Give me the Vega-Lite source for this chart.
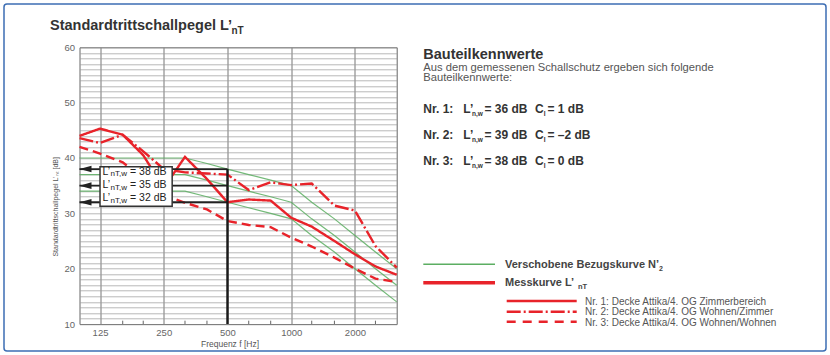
{
  "$schema": "https://vega.github.io/schema/vega-lite/v6.json",
  "width": 317.2,
  "height": 276.7,
  "autosize": "none",
  "padding": {"left": 79.5, "top": 47.3, "right": 433.3, "bottom": 31},
  "background": "white",
  "config": {
    "view": {"stroke": "#666", "strokeWidth": 1},
    "font": "Liberation Sans",
    "text": {"font": "Liberation Sans"}
  },
  "data": {"values": [{}]},
  "datasets": {
    "mess": [
      {"curve": "Nr. 1", "f": 100, "L": 44.0}, {"curve": "Nr. 1", "f": 125, "L": 45.3}, {"curve": "Nr. 1", "f": 160, "L": 44.2}, {"curve": "Nr. 1", "f": 200, "L": 40.5},
      {"curve": "Nr. 1", "f": 250, "L": 34.6}, {"curve": "Nr. 1", "f": 315, "L": 40.2}, {"curve": "Nr. 1", "f": 400, "L": 36.2}, {"curve": "Nr. 1", "f": 500, "L": 32.0},
      {"curve": "Nr. 1", "f": 630, "L": 32.5}, {"curve": "Nr. 1", "f": 800, "L": 32.3}, {"curve": "Nr. 1", "f": 1000, "L": 29.2}, {"curve": "Nr. 1", "f": 1250, "L": 27.6},
      {"curve": "Nr. 1", "f": 1600, "L": 25.0}, {"curve": "Nr. 1", "f": 2000, "L": 22.6}, {"curve": "Nr. 1", "f": 2500, "L": 20.4}, {"curve": "Nr. 1", "f": 3150, "L": 18.9},
      {"curve": "Nr. 2", "f": 100, "L": 43.6}, {"curve": "Nr. 2", "f": 125, "L": 42.7}, {"curve": "Nr. 2", "f": 160, "L": 44.2}, {"curve": "Nr. 2", "f": 200, "L": 41.2},
      {"curve": "Nr. 2", "f": 250, "L": 38.0}, {"curve": "Nr. 2", "f": 315, "L": 37.4}, {"curve": "Nr. 2", "f": 400, "L": 37.2}, {"curve": "Nr. 2", "f": 500, "L": 37.0},
      {"curve": "Nr. 2", "f": 630, "L": 34.2}, {"curve": "Nr. 2", "f": 800, "L": 35.6}, {"curve": "Nr. 2", "f": 1000, "L": 35.1}, {"curve": "Nr. 2", "f": 1250, "L": 35.4},
      {"curve": "Nr. 2", "f": 1600, "L": 31.4}, {"curve": "Nr. 2", "f": 2000, "L": 30.5}, {"curve": "Nr. 2", "f": 2500, "L": 24.1}, {"curve": "Nr. 2", "f": 3150, "L": 20.2},
      {"curve": "Nr. 3", "f": 100, "L": 42.0}, {"curve": "Nr. 3", "f": 125, "L": 40.8}, {"curve": "Nr. 3", "f": 160, "L": 39.2}, {"curve": "Nr. 3", "f": 200, "L": 36.3},
      {"curve": "Nr. 3", "f": 250, "L": 33.3}, {"curve": "Nr. 3", "f": 315, "L": 31.9}, {"curve": "Nr. 3", "f": 400, "L": 30.7}, {"curve": "Nr. 3", "f": 500, "L": 28.6},
      {"curve": "Nr. 3", "f": 630, "L": 27.9}, {"curve": "Nr. 3", "f": 800, "L": 27.5}, {"curve": "Nr. 3", "f": 1000, "L": 25.6}, {"curve": "Nr. 3", "f": 1250, "L": 24.0},
      {"curve": "Nr. 3", "f": 1600, "L": 22.0}, {"curve": "Nr. 3", "f": 2000, "L": 20.0}, {"curve": "Nr. 3", "f": 2500, "L": 18.2}, {"curve": "Nr. 3", "f": 3150, "L": 17.6}
    ],
    "bezug": [
      {"curve": "B38", "f": 100, "L": 40}, {"curve": "B38", "f": 125, "L": 40}, {"curve": "B38", "f": 160, "L": 40}, {"curve": "B38", "f": 200, "L": 40},
      {"curve": "B38", "f": 250, "L": 40}, {"curve": "B38", "f": 315, "L": 40}, {"curve": "B38", "f": 400, "L": 39}, {"curve": "B38", "f": 500, "L": 38},
      {"curve": "B38", "f": 630, "L": 37}, {"curve": "B38", "f": 800, "L": 36}, {"curve": "B38", "f": 1000, "L": 35}, {"curve": "B38", "f": 1250, "L": 32},
      {"curve": "B38", "f": 1600, "L": 29}, {"curve": "B38", "f": 2000, "L": 26}, {"curve": "B38", "f": 2500, "L": 23}, {"curve": "B38", "f": 3150, "L": 20},
      {"curve": "B35", "f": 100, "L": 37}, {"curve": "B35", "f": 125, "L": 37}, {"curve": "B35", "f": 160, "L": 37}, {"curve": "B35", "f": 200, "L": 37},
      {"curve": "B35", "f": 250, "L": 37}, {"curve": "B35", "f": 315, "L": 37}, {"curve": "B35", "f": 400, "L": 36}, {"curve": "B35", "f": 500, "L": 35},
      {"curve": "B35", "f": 630, "L": 34}, {"curve": "B35", "f": 800, "L": 33}, {"curve": "B35", "f": 1000, "L": 32}, {"curve": "B35", "f": 1250, "L": 29},
      {"curve": "B35", "f": 1600, "L": 26}, {"curve": "B35", "f": 2000, "L": 23}, {"curve": "B35", "f": 2500, "L": 20}, {"curve": "B35", "f": 3150, "L": 17},
      {"curve": "B32", "f": 100, "L": 34}, {"curve": "B32", "f": 125, "L": 34}, {"curve": "B32", "f": 160, "L": 34}, {"curve": "B32", "f": 200, "L": 34},
      {"curve": "B32", "f": 250, "L": 34}, {"curve": "B32", "f": 315, "L": 34}, {"curve": "B32", "f": 400, "L": 33}, {"curve": "B32", "f": 500, "L": 32},
      {"curve": "B32", "f": 630, "L": 31}, {"curve": "B32", "f": 800, "L": 30}, {"curve": "B32", "f": 1000, "L": 29}, {"curve": "B32", "f": 1250, "L": 26},
      {"curve": "B32", "f": 1600, "L": 23}, {"curve": "B32", "f": 2000, "L": 20}, {"curve": "B32", "f": 2500, "L": 17}, {"curve": "B32", "f": 3150, "L": 14}
    ],
    "terzticks": [{"f": 160}, {"f": 200}, {"f": 315}, {"f": 400}, {"f": 630}, {"f": 800}, {"f": 1250}, {"f": 1600}, {"f": 2500}],
    "lntw": [{"v": 38}, {"v": 35}, {"v": 32}]
  },
  "layer": [
    {
      "data": {"name": "bezug"},
      "mark": {"type": "line", "color": "#5cae62", "strokeWidth": 1.2, "opacity": 0.85},
      "encoding": {
        "x": {
          "field": "f", "type": "quantitative",
          "scale": {"type": "log", "domain": [100, 3150], "nice": false},
          "axis": {
            "values": [125, 250, 500, 1000, 2000], "format": "d", "title": "Frequenz f [Hz]",
            "grid": true, "gridColor": "#777", "gridWidth": 1, "ticks": false, "domain": false,
            "labelFontSize": 9.5, "labelColor": "#666", "labelPadding": 3, "labelFlush": false, "labelOverlap": false,
            "titleFontSize": 8.5, "titleFontWeight": "normal", "titleColor": "#555", "titlePadding": 3,
            "titleX": 150, "titleAlign": "center"
          }
        },
        "y": {
          "field": "L", "type": "quantitative",
          "scale": {"domain": [10, 60], "nice": false, "zero": false},
          "axis": {
            "values": [10,11,12,13,14,15,16,17,18,19,20,21,22,23,24,25,26,27,28,29,30,31,32,33,34,35,36,37,38,39,40,41,42,43,44,45,46,47,48,49,50,51,52,53,54,55,56,57,58,59,60],
            "labelExpr": "datum.value % 10 === 0 ? datum.label : ''",
            "title": "Standardtrittschallpegel L’ₙₜ [dB]",
            "grid": true, "gridColor": "#9a9a9a", "gridWidth": 0.7, "ticks": false, "domain": false,
            "labelFontSize": 9.5, "labelColor": "#666", "labelPadding": 5, "labelFlush": false, "labelOverlap": false,
            "titleFontSize": 7, "titleFontWeight": "normal", "titleColor": "#555", "titlePadding": 5,
            "titleY": 159
          }
        },
        "detail": {"field": "curve"}
      }
    },
    {
      "data": {"name": "terzticks"},
      "mark": {"type": "rule", "color": "#666", "strokeWidth": 1},
      "encoding": {
        "x": {"field": "f", "type": "quantitative", "scale": {"type": "log", "domain": [100, 3150], "nice": false}, "axis": null},
        "y": {"datum": 10, "type": "quantitative", "scale": {"domain": [10, 60], "nice": false, "zero": false}, "axis": null},
        "y2": {"datum": 10.6}
      }
    },
    {
      "data": {"name": "mess"},
      "mark": {"type": "line", "color": "#e8232a", "strokeWidth": 2.4},
      "encoding": {
        "x": {"field": "f", "type": "quantitative", "scale": {"type": "log", "domain": [100, 3150], "nice": false}, "axis": null},
        "y": {"field": "L", "type": "quantitative", "scale": {"domain": [10, 60], "nice": false, "zero": false}, "axis": null},
        "strokeDash": {"field": "curve", "type": "nominal", "scale": {"domain": ["Nr. 1", "Nr. 2", "Nr. 3"], "range": [[1, 0], [14, 3, 2, 3], [9, 5]]}, "legend": null}
      }
    },
    {
      "data": {"name": "lntw"},
      "mark": {"type": "rule", "color": "#222", "strokeWidth": 1.8},
      "encoding": {
        "x": {"datum": 100, "type": "quantitative", "scale": {"type": "log", "domain": [100, 3150], "nice": false}, "axis": null},
        "x2": {"datum": 500},
        "y": {"field": "v", "type": "quantitative", "scale": {"domain": [10, 60], "nice": false, "zero": false}, "axis": null}
      }
    },
    {
      "mark": {"type": "rule", "color": "#1a1a1a", "strokeWidth": 2.4},
      "encoding": {
        "x": {"datum": 500, "type": "quantitative", "scale": {"type": "log", "domain": [100, 3150], "nice": false}, "axis": null},
        "y": {"datum": 10, "type": "quantitative", "scale": {"domain": [10, 60], "nice": false, "zero": false}, "axis": null},
        "y2": {"datum": 38}
      }
    },
    {
      "data": {"name": "lntw"},
      "mark": {"type": "point", "shape": "M 0 0 L 2 -0.55 L 2 0.55 Z", "filled": true, "color": "#222", "size": 144, "opacity": 1},
      "encoding": {
        "x": {"datum": 100, "type": "quantitative", "scale": {"type": "log", "domain": [100, 3150], "nice": false}, "axis": null},
        "y": {"field": "v", "type": "quantitative", "scale": {"domain": [10, 60], "nice": false, "zero": false}, "axis": null}
      }
    },
    {
      "mark": {"type": "rect", "fill": "white", "stroke": "#333", "strokeWidth": 1.5},
      "encoding": {
        "x": {"datum": 125, "type": "quantitative", "scale": {"type": "log", "domain": [100, 3150], "nice": false}, "axis": null},
        "x2": {"datum": 274},
        "y": {"datum": 31.3, "type": "quantitative", "scale": {"domain": [10, 60], "nice": false, "zero": false}, "axis": null},
        "y2": {"datum": 38.4}
      }
    },
    {
      "data": {"values": [{}]},
      "layer": [
        {
          "mark": {"type": "rect", "fillOpacity": 0, "stroke": "#3d6eb4", "strokeWidth": 1.5, "cornerRadius": 3},
          "encoding": {
            "x": {"datum": 4, "type": "quantitative", "scale": {"domain": [0, 830], "range": [-79.5, 750.5], "nice": false, "zero": false}, "axis": null},
            "x2": {"datum": 826},
            "y": {"datum": 4, "type": "quantitative", "scale": {"domain": [0, 355], "range": [-47.3, 307.7], "nice": false, "zero": false}, "axis": null},
            "y2": {"datum": 351}
          }
        },
        {"mark": {"type": "text", "align": "left", "baseline": "alphabetic", "fontSize": 14.5, "fontWeight": "bold", "color": "#333"},
         "encoding": {"x": {"datum": 50, "axis": null}, "y": {"datum": 30, "axis": null}, "text": {"value": "Standardtrittschallpegel L’"}}},
        {"mark": {"type": "text", "align": "left", "baseline": "alphabetic", "fontSize": 10, "fontWeight": "bold", "color": "#333"},
         "encoding": {"x": {"datum": 231.5, "axis": null}, "y": {"datum": 34, "axis": null}, "text": {"value": "nT"}}},

        {"mark": {"type": "text", "align": "left", "baseline": "middle", "fontSize": 10.5, "color": "#222"},
         "encoding": {"x": {"datum": 102.5, "axis": null}, "y": {"datum": 171.5, "axis": null}, "text": {"value": "L’"}}},
        {"mark": {"type": "text", "align": "left", "baseline": "middle", "fontSize": 8, "color": "#222"},
         "encoding": {"x": {"datum": 110.5, "axis": null}, "y": {"datum": 174, "axis": null}, "text": {"value": "nT,w"}}},
        {"mark": {"type": "text", "align": "left", "baseline": "middle", "fontSize": 10.5, "color": "#222"},
         "encoding": {"x": {"datum": 130, "axis": null}, "y": {"datum": 171.5, "axis": null}, "text": {"value": "= 38 dB"}}},
        {"mark": {"type": "text", "align": "left", "baseline": "middle", "fontSize": 10.5, "color": "#222"},
         "encoding": {"x": {"datum": 102.5, "axis": null}, "y": {"datum": 185, "axis": null}, "text": {"value": "L’"}}},
        {"mark": {"type": "text", "align": "left", "baseline": "middle", "fontSize": 8, "color": "#222"},
         "encoding": {"x": {"datum": 110.5, "axis": null}, "y": {"datum": 187.5, "axis": null}, "text": {"value": "nT,w"}}},
        {"mark": {"type": "text", "align": "left", "baseline": "middle", "fontSize": 10.5, "color": "#222"},
         "encoding": {"x": {"datum": 130, "axis": null}, "y": {"datum": 185, "axis": null}, "text": {"value": "= 35 dB"}}},
        {"mark": {"type": "text", "align": "left", "baseline": "middle", "fontSize": 10.5, "color": "#222"},
         "encoding": {"x": {"datum": 102.5, "axis": null}, "y": {"datum": 198, "axis": null}, "text": {"value": "L’"}}},
        {"mark": {"type": "text", "align": "left", "baseline": "middle", "fontSize": 8, "color": "#222"},
         "encoding": {"x": {"datum": 110.5, "axis": null}, "y": {"datum": 200.5, "axis": null}, "text": {"value": "nT,w"}}},
        {"mark": {"type": "text", "align": "left", "baseline": "middle", "fontSize": 10.5, "color": "#222"},
         "encoding": {"x": {"datum": 130, "axis": null}, "y": {"datum": 198, "axis": null}, "text": {"value": "= 32 dB"}}},

        {"mark": {"type": "text", "align": "left", "baseline": "alphabetic", "fontSize": 14.5, "fontWeight": "bold", "color": "#333"},
         "encoding": {"x": {"datum": 423.3, "axis": null}, "y": {"datum": 59, "axis": null}, "text": {"value": "Bauteilkennwerte"}}},
        {"mark": {"type": "text", "align": "left", "baseline": "alphabetic", "fontSize": 11.2, "color": "#555"},
         "encoding": {"x": {"datum": 423.3, "axis": null}, "y": {"datum": 70.5, "axis": null}, "text": {"value": "Aus dem gemessenen Schallschutz ergeben sich folgende"}}},
        {"mark": {"type": "text", "align": "left", "baseline": "alphabetic", "fontSize": 11.2, "color": "#555"},
         "encoding": {"x": {"datum": 423.3, "axis": null}, "y": {"datum": 81.3, "axis": null}, "text": {"value": "Bauteilkennwerte:"}}},

        {"mark": {"type": "text", "align": "left", "baseline": "alphabetic", "fontSize": 12, "fontWeight": "bold", "color": "#333"},
         "encoding": {"x": {"datum": 423.3, "axis": null}, "y": {"datum": 112.7, "axis": null}, "text": {"value": "Nr. 1:"}}},
        {"mark": {"type": "text", "align": "left", "baseline": "alphabetic", "fontSize": 12, "fontWeight": "bold", "color": "#333"},
         "encoding": {"x": {"datum": 423.3, "axis": null}, "y": {"datum": 139.3, "axis": null}, "text": {"value": "Nr. 2:"}}},
        {"mark": {"type": "text", "align": "left", "baseline": "alphabetic", "fontSize": 12, "fontWeight": "bold", "color": "#333"},
         "encoding": {"x": {"datum": 423.3, "axis": null}, "y": {"datum": 165, "axis": null}, "text": {"value": "Nr. 3:"}}},
        {"mark": {"type": "text", "align": "left", "baseline": "alphabetic", "fontSize": 12, "fontWeight": "bold", "color": "#333"},
         "encoding": {"x": {"datum": 463.3, "axis": null}, "y": {"datum": 112.7, "axis": null}, "text": {"value": "L’"}}},
        {"mark": {"type": "text", "align": "left", "baseline": "alphabetic", "fontSize": 12, "fontWeight": "bold", "color": "#333"},
         "encoding": {"x": {"datum": 463.3, "axis": null}, "y": {"datum": 139.3, "axis": null}, "text": {"value": "L’"}}},
        {"mark": {"type": "text", "align": "left", "baseline": "alphabetic", "fontSize": 12, "fontWeight": "bold", "color": "#333"},
         "encoding": {"x": {"datum": 463.3, "axis": null}, "y": {"datum": 165, "axis": null}, "text": {"value": "L’"}}},
        {"mark": {"type": "text", "align": "left", "baseline": "alphabetic", "fontSize": 6.5, "fontWeight": "bold", "color": "#333"},
         "encoding": {"x": {"datum": 472, "axis": null}, "y": {"datum": 115.5, "axis": null}, "text": {"value": "n,w"}}},
        {"mark": {"type": "text", "align": "left", "baseline": "alphabetic", "fontSize": 6.5, "fontWeight": "bold", "color": "#333"},
         "encoding": {"x": {"datum": 472, "axis": null}, "y": {"datum": 142.1, "axis": null}, "text": {"value": "n,w"}}},
        {"mark": {"type": "text", "align": "left", "baseline": "alphabetic", "fontSize": 6.5, "fontWeight": "bold", "color": "#333"},
         "encoding": {"x": {"datum": 472, "axis": null}, "y": {"datum": 167.8, "axis": null}, "text": {"value": "n,w"}}},
        {"mark": {"type": "text", "align": "left", "baseline": "alphabetic", "fontSize": 12, "fontWeight": "bold", "color": "#333"},
         "encoding": {"x": {"datum": 484.5, "axis": null}, "y": {"datum": 112.7, "axis": null}, "text": {"value": "= 36 dB"}}},
        {"mark": {"type": "text", "align": "left", "baseline": "alphabetic", "fontSize": 12, "fontWeight": "bold", "color": "#333"},
         "encoding": {"x": {"datum": 484.5, "axis": null}, "y": {"datum": 139.3, "axis": null}, "text": {"value": "= 39 dB"}}},
        {"mark": {"type": "text", "align": "left", "baseline": "alphabetic", "fontSize": 12, "fontWeight": "bold", "color": "#333"},
         "encoding": {"x": {"datum": 484.5, "axis": null}, "y": {"datum": 165, "axis": null}, "text": {"value": "= 38 dB"}}},
        {"mark": {"type": "text", "align": "left", "baseline": "alphabetic", "fontSize": 12, "fontWeight": "bold", "color": "#333"},
         "encoding": {"x": {"datum": 535, "axis": null}, "y": {"datum": 112.7, "axis": null}, "text": {"value": "C"}}},
        {"mark": {"type": "text", "align": "left", "baseline": "alphabetic", "fontSize": 12, "fontWeight": "bold", "color": "#333"},
         "encoding": {"x": {"datum": 535, "axis": null}, "y": {"datum": 139.3, "axis": null}, "text": {"value": "C"}}},
        {"mark": {"type": "text", "align": "left", "baseline": "alphabetic", "fontSize": 12, "fontWeight": "bold", "color": "#333"},
         "encoding": {"x": {"datum": 535, "axis": null}, "y": {"datum": 165, "axis": null}, "text": {"value": "C"}}},
        {"mark": {"type": "text", "align": "left", "baseline": "alphabetic", "fontSize": 6.5, "fontWeight": "bold", "color": "#333"},
         "encoding": {"x": {"datum": 543.8, "axis": null}, "y": {"datum": 115.5, "axis": null}, "text": {"value": "I"}}},
        {"mark": {"type": "text", "align": "left", "baseline": "alphabetic", "fontSize": 6.5, "fontWeight": "bold", "color": "#333"},
         "encoding": {"x": {"datum": 543.8, "axis": null}, "y": {"datum": 142.1, "axis": null}, "text": {"value": "I"}}},
        {"mark": {"type": "text", "align": "left", "baseline": "alphabetic", "fontSize": 6.5, "fontWeight": "bold", "color": "#333"},
         "encoding": {"x": {"datum": 543.8, "axis": null}, "y": {"datum": 167.8, "axis": null}, "text": {"value": "I"}}},
        {"mark": {"type": "text", "align": "left", "baseline": "alphabetic", "fontSize": 12, "fontWeight": "bold", "color": "#333"},
         "encoding": {"x": {"datum": 547.5, "axis": null}, "y": {"datum": 112.7, "axis": null}, "text": {"value": "= 1 dB"}}},
        {"mark": {"type": "text", "align": "left", "baseline": "alphabetic", "fontSize": 12, "fontWeight": "bold", "color": "#333"},
         "encoding": {"x": {"datum": 547.5, "axis": null}, "y": {"datum": 139.3, "axis": null}, "text": {"value": "= –2 dB"}}},
        {"mark": {"type": "text", "align": "left", "baseline": "alphabetic", "fontSize": 12, "fontWeight": "bold", "color": "#333"},
         "encoding": {"x": {"datum": 547.5, "axis": null}, "y": {"datum": 165, "axis": null}, "text": {"value": "= 0 dB"}}},

        {"mark": {"type": "rule", "color": "#5cae62", "strokeWidth": 1.5},
         "encoding": {"x": {"datum": 423.3, "axis": null}, "x2": {"datum": 495}, "y": {"datum": 264.3, "axis": null}}},
        {"mark": {"type": "rule", "color": "#e8232a", "strokeWidth": 3.5},
         "encoding": {"x": {"datum": 423.3, "axis": null}, "x2": {"datum": 495}, "y": {"datum": 282.7, "axis": null}}},
        {"mark": {"type": "rule", "color": "#e8232a", "strokeWidth": 2.4},
         "encoding": {"x": {"datum": 506.7, "axis": null}, "x2": {"datum": 576.7}, "y": {"datum": 301, "axis": null}}},
        {"mark": {"type": "rule", "color": "#e8232a", "strokeWidth": 2.4, "strokeDash": [14, 3, 2, 3]},
         "encoding": {"x": {"datum": 506.7, "axis": null}, "x2": {"datum": 576.7}, "y": {"datum": 311.7, "axis": null}}},
        {"mark": {"type": "rule", "color": "#e8232a", "strokeWidth": 2.4, "strokeDash": [9, 7]},
         "encoding": {"x": {"datum": 506.7, "axis": null}, "x2": {"datum": 576.7}, "y": {"datum": 321.7, "axis": null}}},
        {"mark": {"type": "text", "align": "left", "baseline": "middle", "fontSize": 11, "fontWeight": "bold", "color": "#444"},
         "encoding": {"x": {"datum": 505, "axis": null}, "y": {"datum": 265, "axis": null}, "text": {"value": "Verschobene Bezugskurve N’"}}},
        {"mark": {"type": "text", "align": "left", "baseline": "middle", "fontSize": 7, "fontWeight": "bold", "color": "#444"},
         "encoding": {"x": {"datum": 659, "axis": null}, "y": {"datum": 269, "axis": null}, "text": {"value": "2"}}},
        {"mark": {"type": "text", "align": "left", "baseline": "middle", "fontSize": 11, "fontWeight": "bold", "color": "#444"},
         "encoding": {"x": {"datum": 505, "axis": null}, "y": {"datum": 283, "axis": null}, "text": {"value": "Messkurve L’"}}},
        {"mark": {"type": "text", "align": "left", "baseline": "middle", "fontSize": 7.5, "fontWeight": "bold", "color": "#444"},
         "encoding": {"x": {"datum": 578, "axis": null}, "y": {"datum": 286.5, "axis": null}, "text": {"value": "nT"}}},
        {"mark": {"type": "text", "align": "left", "baseline": "middle", "fontSize": 10, "color": "#555"},
         "encoding": {"x": {"datum": 585, "axis": null}, "y": {"datum": 301.5, "axis": null}, "text": {"value": "Nr. 1: Decke Attika/4. OG Zimmerbereich"}}},
        {"mark": {"type": "text", "align": "left", "baseline": "middle", "fontSize": 10, "color": "#555"},
         "encoding": {"x": {"datum": 585, "axis": null}, "y": {"datum": 312, "axis": null}, "text": {"value": "Nr. 2: Decke Attika/4. OG Wohnen/Zimmer"}}},
        {"mark": {"type": "text", "align": "left", "baseline": "middle", "fontSize": 10, "color": "#555"},
         "encoding": {"x": {"datum": 585, "axis": null}, "y": {"datum": 322.5, "axis": null}, "text": {"value": "Nr. 3: Decke Attika/4. OG Wohnen/Wohnen"}}}
      ]
    }
  ],
  "resolve": {"scale": {"x": "independent", "y": "independent"}}
}
